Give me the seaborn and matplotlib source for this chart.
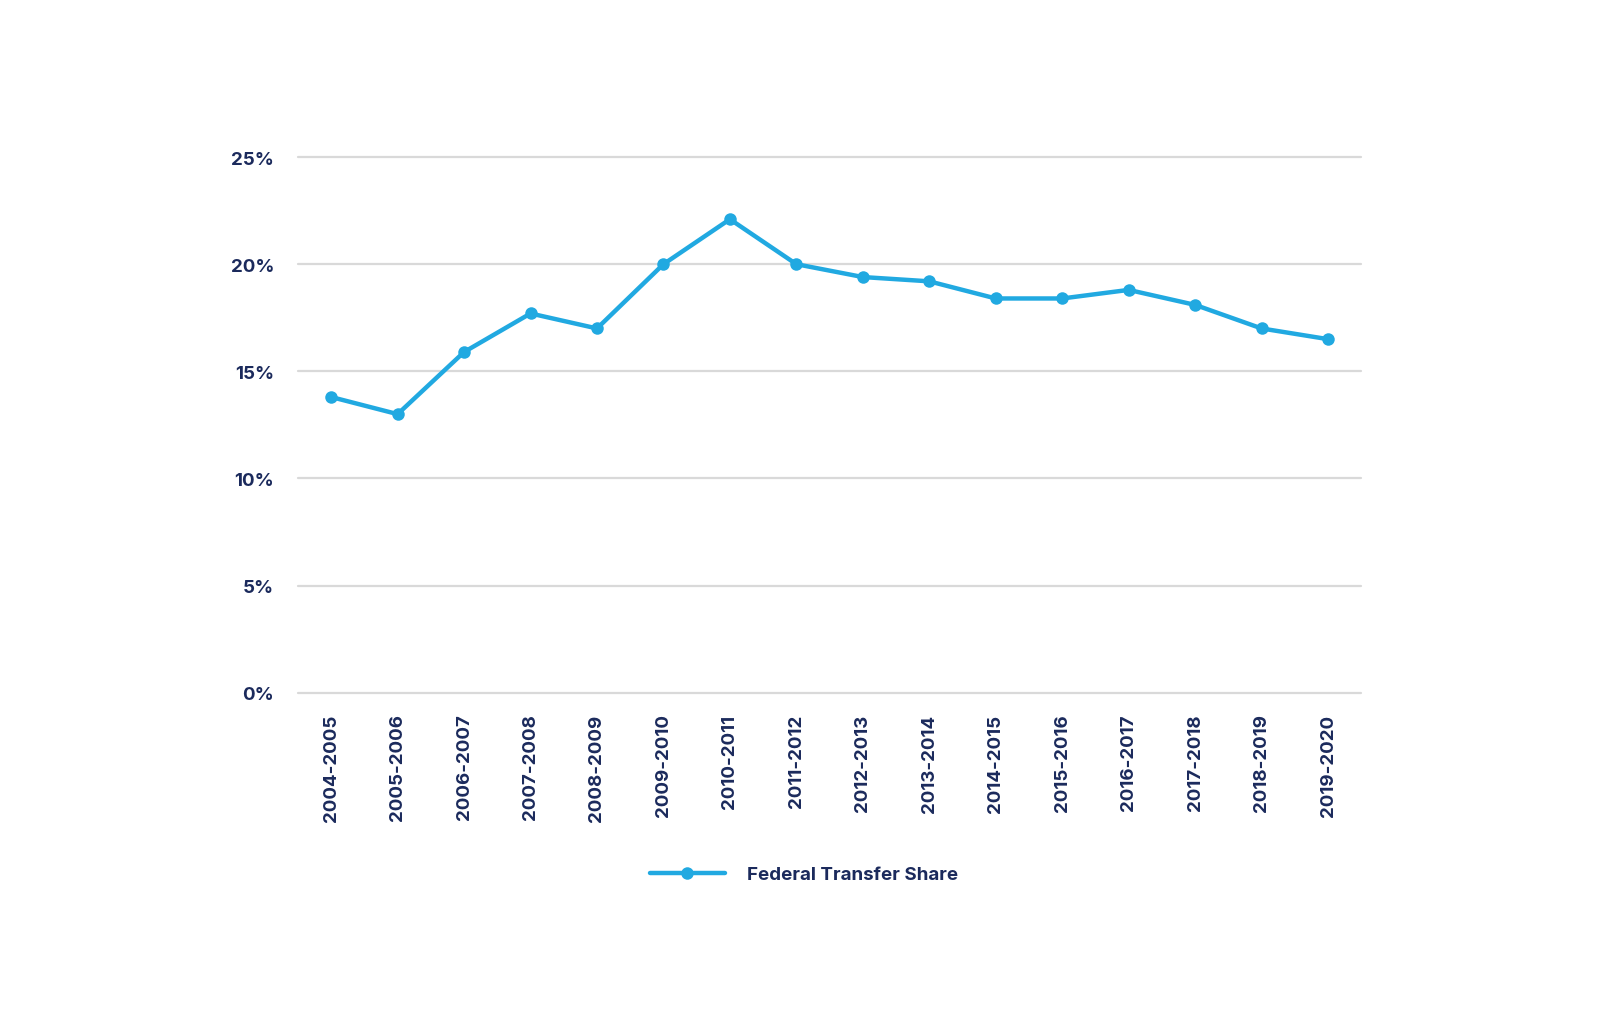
import matplotlib
matplotlib.use("Agg")
import matplotlib.pyplot as plt
import seaborn as sns
import pandas as pd
from matplotlib.ticker import FuncFormatter

years = ["2004-2005", "2005-2006", "2006-2007", "2007-2008", "2008-2009", "2009-2010",
         "2010-2011", "2011-2012", "2012-2013", "2013-2014", "2014-2015", "2015-2016",
         "2016-2017", "2017-2018", "2018-2019", "2019-2020"]
share = [13.8, 13.0, 15.9, 17.7, 17.0, 20.0, 22.1, 20.0, 19.4, 19.2, 18.4, 18.4,
         18.8, 18.1, 17.0, 16.5]
series_name = "Federal Transfer Share"

df = pd.DataFrame({"year": years, "share": share, "series": series_name})

sns.set_theme(style="white")
plt.rcParams['font.family'] = ['Inter', 'DejaVu Sans']
NAVY = "#1B2A5C"
BLUE = "#21A9E1"

fig = plt.figure(figsize=(16, 10.2), dpi=100)
ax = fig.add_axes([0.1862, 0.32, 0.6646, 0.525])

x = list(range(len(years)))
df["x"] = x
sns.lineplot(data=df, x="x", y="share", hue="series", palette=[BLUE], ax=ax,
             linewidth=3.2, marker="o", markersize=9, markeredgewidth=0, zorder=3)

ax.set_xlim(-0.5, len(years) - 0.5)
ax.set_ylim(0, 25)
ax.set_yticks([0, 5, 10, 15, 20, 25])
ax.yaxis.set_major_formatter(FuncFormatter(lambda v, p: f"{int(v)}%"))
ax.set_xticks(x)
ax.set_xticklabels(years, rotation=90)
ax.grid(axis="y", color="#D9D9D9", linewidth=1.6, zorder=0)
ax.grid(axis="x", visible=False)
for gl in ax.get_ygridlines():
    gl.set_clip_on(False)
for s in ax.spines.values():
    s.set_visible(False)
ax.tick_params(axis="both", length=0, labelsize=13.5, labelcolor=NAVY)
ax.tick_params(axis="y", pad=17)
ax.tick_params(axis="x", pad=15)
for lab in ax.get_xticklabels() + ax.get_yticklabels():
    lab.set_fontweight("bold")
ax.set_xlabel("")
ax.set_ylabel("")

leg = ax.legend(loc="center", bbox_to_anchor=(0.476, -0.34), frameon=False,
                fontsize=13.5, handlelength=4, handletextpad=1.2)
for t in leg.get_texts():
    t.set_color(NAVY)
    t.set_fontweight("bold")

fig.savefig("out.png", dpi=100)
